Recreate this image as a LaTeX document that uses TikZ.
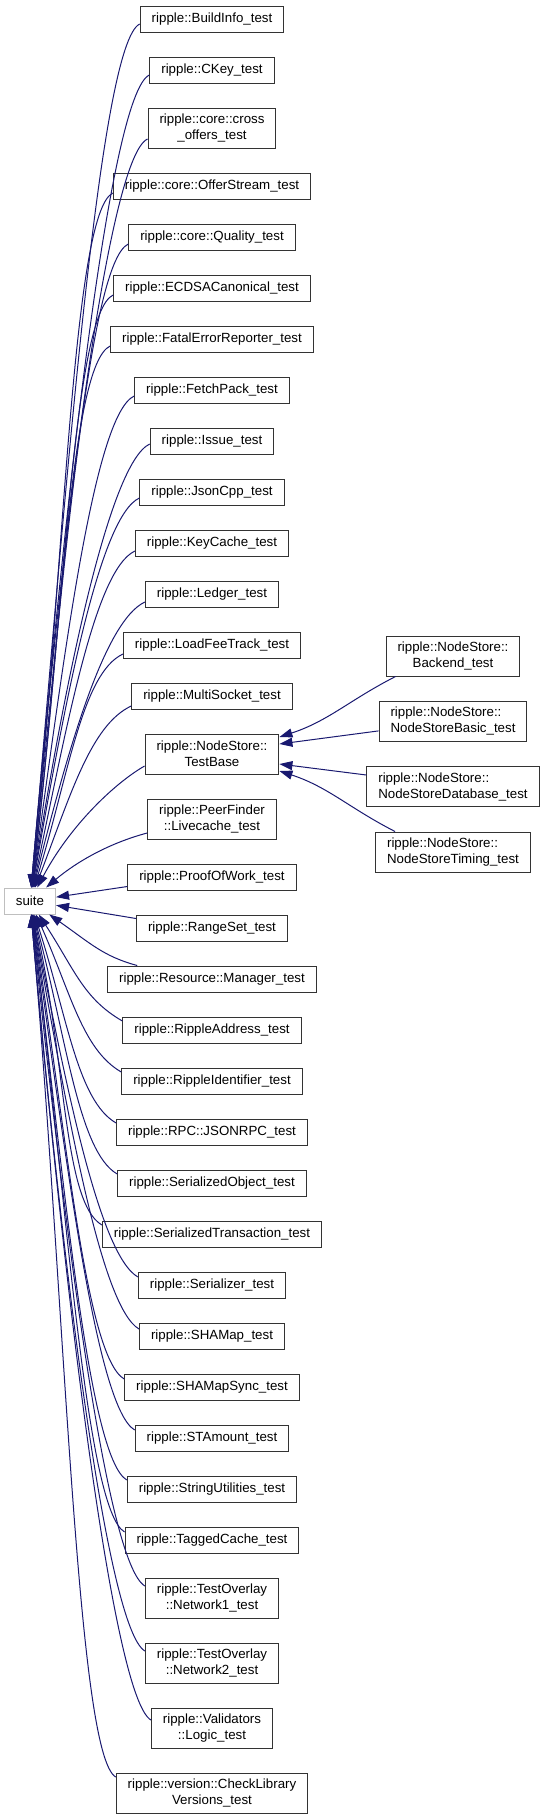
\documentclass[tikz,border=0pt]{standalone}
\usepackage{fontspec}
\setmainfont{Liberation Sans}
\usetikzlibrary{arrows.meta,positioning}
\definecolor{edgeblue}{RGB}{25,25,112}

\begin{document}
\begin{tikzpicture}[x=1pt, y=1pt,
  node distance=24pt, font=\fontsize{13.3pt}{15.7pt}\selectfont,
  cls/.style={draw=black!80, line width=1pt, fill=white, minimum height=26pt,
              inner xsep=11.5pt, inner ysep=2pt},
  cls2/.style={cls, minimum height=40pt, align=center},
  base/.style={cls, draw=black!25},
  ar/.style={{Triangle[length=13pt,width=9pt]}-, edgeblue, line width=1pt}]
  \useasboundingbox (0,0) rectangle (544,-1815);
  % derived classes, one column
  \node[cls] (buildinfo) at (212,-19) {ripple::BuildInfo\_test};
  \node[cls, below=of buildinfo] (ckey) {ripple::CKey\_test};
  \node[cls2, below=of ckey] (crossoffers) {ripple::core::cross\\\_offers\_test};
  \node[cls, below=of crossoffers] (offerstream) {ripple::core::OfferStream\_test};
  \node[cls, below=of offerstream] (quality) {ripple::core::Quality\_test};
  \node[cls, below=of quality] (ecdsa) {ripple::ECDSACanonical\_test};
  \node[cls, below=of ecdsa] (fatalerror) {ripple::FatalErrorReporter\_test};
  \node[cls, below=of fatalerror] (fetchpack) {ripple::FetchPack\_test};
  \node[cls, below=of fetchpack] (issue) {ripple::Issue\_test};
  \node[cls, below=of issue] (jsoncpp) {ripple::JsonCpp\_test};
  \node[cls, below=of jsoncpp] (keycache) {ripple::KeyCache\_test};
  \node[cls, below=of keycache] (ledger) {ripple::Ledger\_test};
  \node[cls, below=of ledger] (loadfee) {ripple::LoadFeeTrack\_test};
  \node[cls, below=of loadfee] (multisocket) {ripple::MultiSocket\_test};
  \node[cls2, below=of multisocket] (testbase) {ripple::NodeStore::\\TestBase};
  \node[cls2, below=of testbase] (livecache) {ripple::PeerFinder\\::Livecache\_test};
  \node[cls, below=of livecache] (proofofwork) {ripple::ProofOfWork\_test};
  \node[cls, below=of proofofwork] (rangeset) {ripple::RangeSet\_test};
  \node[cls, below=of rangeset] (resource) {ripple::Resource::Manager\_test};
  \node[cls, below=of resource] (rippleaddr) {ripple::RippleAddress\_test};
  \node[cls, below=of rippleaddr] (rippleid) {ripple::RippleIdentifier\_test};
  \node[cls, below=of rippleid] (jsonrpc) {ripple::RPC::JSONRPC\_test};
  \node[cls, below=of jsonrpc] (serobject) {ripple::SerializedObject\_test};
  \node[cls, below=of serobject] (sertx) {ripple::SerializedTransaction\_test};
  \node[cls, below=of sertx] (serializer) {ripple::Serializer\_test};
  \node[cls, below=of serializer] (shamap) {ripple::SHAMap\_test};
  \node[cls, below=of shamap] (shamapsync) {ripple::SHAMapSync\_test};
  \node[cls, below=of shamapsync] (stamount) {ripple::STAmount\_test};
  \node[cls, below=of stamount] (strutil) {ripple::StringUtilities\_test};
  \node[cls, below=of strutil] (taggedcache) {ripple::TaggedCache\_test};
  \node[cls2, below=of taggedcache] (network1) {ripple::TestOverlay\\::Network1\_test};
  \node[cls2, below=of network1] (network2) {ripple::TestOverlay\\::Network2\_test};
  \node[cls2, below=of network2] (validators) {ripple::Validators\\::Logic\_test};
  \node[cls2, below=of validators] (checklib) {ripple::version::CheckLibrary\\Versions\_test};
  % NodeStore tests
  \node[cls2] (backend) at (453,-656) {ripple::NodeStore::\\Backend\_test};
  \node[cls2, align=left] (basic) at (453,-721.3) {ripple::NodeStore::\\NodeStoreBasic\_test};
  \node[cls2, align=left] (database) at (453,-786.7) {ripple::NodeStore::\\NodeStoreDatabase\_test};
  \node[cls2, align=left] (timing) at (453,-852) {ripple::NodeStore::\\NodeStoreTiming\_test};
  \node[base] (suite) at (30,-901) {suite};
  % inheritance edges
  \foreach \n/\a/\d/\s in {buildinfo/85/390pt/-5pt, ckey/85/370pt/-5pt,
      crossoffers/85/340pt/-11pt, offerstream/84/315pt/-7pt, quality/84/292pt/-7pt,
      ecdsa/83/270pt/-7pt, fatalerror/83/247pt/-7pt, fetchpack/82/226pt/-6pt,
      issue/81/204pt/-3pt, jsoncpp/80/182pt/-6pt, keycache/78/160pt/-8pt,
      ledger/76/140pt/-8pt, loadfee/73/118pt/-9pt, multisocket/69/97pt/-10pt}
    \draw[ar] (suite) to[out=\a, in=205, out distance=\d, in distance=45pt] ([yshift=\s]\n.west);
  \draw[ar] (suite) to[out=62, in=210, out distance=70pt, in distance=35pt] ([yshift=-12pt]testbase.west);
  \draw[ar] (suite) to[out=40, in=195, out distance=40pt, in distance=40pt] ([yshift=-14pt]livecache.west);
  \draw[ar] (suite) -- ([yshift=4pt]proofofwork.south west);
  \draw[ar] (suite) -- ([yshift=-4pt]rangeset.north west);
  \draw[ar] (suite) to[out=-35, in=165, out distance=50pt, in distance=35pt] ([xshift=30pt]resource.north west);
  \foreach \n/\a/\d/\s in {rippleaddr/-57/66pt/9pt, rippleid/-66/85pt/9pt,
      jsonrpc/-72/105pt/9pt, serobject/-75/126pt/9pt, sertx/-77/148pt/9pt,
      serializer/-79/169pt/8pt, shamap/-80/191pt/7pt, shamapsync/-81/214pt/8pt,
      stamount/-82/236pt/8pt, strutil/-83/259pt/9pt, taggedcache/-83/282pt/8pt,
      network1/-84/307pt/12pt, network2/-85/336pt/12pt, validators/-85/365pt/8pt,
      checklib/-85/394pt/16pt}
    \draw[ar] (suite) to[out=\a, in=150, out distance=\d, in distance=45pt] ([yshift=\s]\n.west);
  \draw[ar] ([yshift=17pt]testbase.east) to[out=18, in=207] ([xshift=10pt]backend.south west);
  \draw[ar] ([yshift=10pt]testbase.east) -- ([yshift=-9.6pt]basic.west);
  \draw[ar] ([yshift=-10pt]testbase.east) -- ([yshift=11.7pt]database.west);
  \draw[ar] ([yshift=-17pt]testbase.east) to[out=-18, in=153] ([xshift=20pt]timing.north west);
\end{tikzpicture}
\end{document}
